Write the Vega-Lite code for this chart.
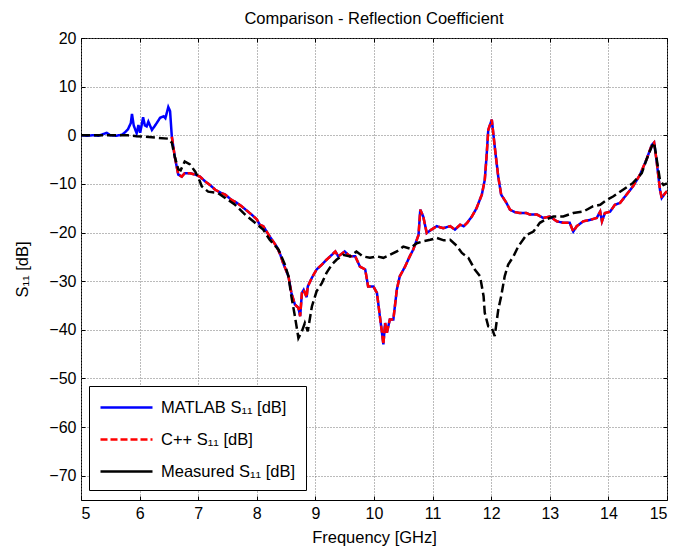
{
  "$schema": "https://vega.github.io/schema/vega-lite/v6.json",
  "width": 586,
  "height": 462,
  "autosize": "none",
  "padding": {"left": 81, "top": 38, "right": 8, "bottom": 48},
  "background": "white",
  "title": {"text": "Comparison - Reflection Coefficient", "font": "Liberation Sans", "fontSize": 16.5, "fontWeight": "normal", "color": "black", "offset": 3, "anchor": "middle"},
  "config": {
    "view": {"stroke": "black", "strokeWidth": 1},
    "axis": {"labelFont": "Liberation Sans", "labelFontSize": 16, "labelColor": "black", "titleFont": "Liberation Sans", "titleFontSize": 16.5, "titleFontWeight": "normal", "titleColor": "black", "domainColor": "black", "tickColor": "black", "gridColor": "#777777", "gridDash": [1, 2], "gridOpacity": 1, "gridWidth": 1, "tickSize": -4, "domain": false}
  },
  "datasets": {
    "s": [
      {"f": 5.00, "v": 0, "s": "MATLAB S₁₁ [dB]"},
      {"f": 5.10, "v": -0.1, "s": "MATLAB S₁₁ [dB]"},
      {"f": 5.20, "v": 0, "s": "MATLAB S₁₁ [dB]"},
      {"f": 5.30, "v": -0.1, "s": "MATLAB S₁₁ [dB]"},
      {"f": 5.44, "v": 0.5, "s": "MATLAB S₁₁ [dB]"},
      {"f": 5.50, "v": 0, "s": "MATLAB S₁₁ [dB]"},
      {"f": 5.60, "v": -0.1, "s": "MATLAB S₁₁ [dB]"},
      {"f": 5.70, "v": 0.1, "s": "MATLAB S₁₁ [dB]"},
      {"f": 5.75, "v": 0.6, "s": "MATLAB S₁₁ [dB]"},
      {"f": 5.80, "v": 1.2, "s": "MATLAB S₁₁ [dB]"},
      {"f": 5.85, "v": 2.5, "s": "MATLAB S₁₁ [dB]"},
      {"f": 5.87, "v": 4.4, "s": "MATLAB S₁₁ [dB]"},
      {"f": 5.90, "v": 2.0, "s": "MATLAB S₁₁ [dB]"},
      {"f": 5.95, "v": 0.4, "s": "MATLAB S₁₁ [dB]"},
      {"f": 5.98, "v": 2.1, "s": "MATLAB S₁₁ [dB]"},
      {"f": 6.01, "v": 0.5, "s": "MATLAB S₁₁ [dB]"},
      {"f": 6.06, "v": 3.7, "s": "MATLAB S₁₁ [dB]"},
      {"f": 6.09, "v": 2.0, "s": "MATLAB S₁₁ [dB]"},
      {"f": 6.12, "v": 1.8, "s": "MATLAB S₁₁ [dB]"},
      {"f": 6.15, "v": 2.8, "s": "MATLAB S₁₁ [dB]"},
      {"f": 6.21, "v": 1.1, "s": "MATLAB S₁₁ [dB]"},
      {"f": 6.27, "v": 2.1, "s": "MATLAB S₁₁ [dB]"},
      {"f": 6.35, "v": 3.6, "s": "MATLAB S₁₁ [dB]"},
      {"f": 6.41, "v": 3.9, "s": "MATLAB S₁₁ [dB]"},
      {"f": 6.44, "v": 3.5, "s": "MATLAB S₁₁ [dB]"},
      {"f": 6.49, "v": 5.8, "s": "MATLAB S₁₁ [dB]"},
      {"f": 6.52, "v": 5.0, "s": "MATLAB S₁₁ [dB]"},
      {"f": 6.55, "v": -0.3, "s": "MATLAB S₁₁ [dB]"},
      {"f": 6.60, "v": -4.4, "s": "MATLAB S₁₁ [dB]"},
      {"f": 6.66, "v": -8.1, "s": "MATLAB S₁₁ [dB]"},
      {"f": 6.72, "v": -8.5, "s": "MATLAB S₁₁ [dB]"},
      {"f": 6.77, "v": -7.8, "s": "MATLAB S₁₁ [dB]"},
      {"f": 6.86, "v": -7.8, "s": "MATLAB S₁₁ [dB]"},
      {"f": 6.95, "v": -8.1, "s": "MATLAB S₁₁ [dB]"},
      {"f": 7.03, "v": -8.5, "s": "MATLAB S₁₁ [dB]"},
      {"f": 7.12, "v": -9.5, "s": "MATLAB S₁₁ [dB]"},
      {"f": 7.20, "v": -10.2, "s": "MATLAB S₁₁ [dB]"},
      {"f": 7.29, "v": -11.2, "s": "MATLAB S₁₁ [dB]"},
      {"f": 7.38, "v": -11.8, "s": "MATLAB S₁₁ [dB]"},
      {"f": 7.46, "v": -12.2, "s": "MATLAB S₁₁ [dB]"},
      {"f": 7.57, "v": -13.3, "s": "MATLAB S₁₁ [dB]"},
      {"f": 7.66, "v": -13.9, "s": "MATLAB S₁₁ [dB]"},
      {"f": 7.74, "v": -14.6, "s": "MATLAB S₁₁ [dB]"},
      {"f": 7.83, "v": -15.5, "s": "MATLAB S₁₁ [dB]"},
      {"f": 7.91, "v": -16.3, "s": "MATLAB S₁₁ [dB]"},
      {"f": 8.00, "v": -17.3, "s": "MATLAB S₁₁ [dB]"},
      {"f": 8.05, "v": -18.4, "s": "MATLAB S₁₁ [dB]"},
      {"f": 8.11, "v": -18.7, "s": "MATLAB S₁₁ [dB]"},
      {"f": 8.22, "v": -20.8, "s": "MATLAB S₁₁ [dB]"},
      {"f": 8.34, "v": -22.9, "s": "MATLAB S₁₁ [dB]"},
      {"f": 8.40, "v": -24.5, "s": "MATLAB S₁₁ [dB]"},
      {"f": 8.45, "v": -26.3, "s": "MATLAB S₁₁ [dB]"},
      {"f": 8.54, "v": -29.0, "s": "MATLAB S₁₁ [dB]"},
      {"f": 8.59, "v": -32.4, "s": "MATLAB S₁₁ [dB]"},
      {"f": 8.65, "v": -34.8, "s": "MATLAB S₁₁ [dB]"},
      {"f": 8.71, "v": -35.5, "s": "MATLAB S₁₁ [dB]"},
      {"f": 8.74, "v": -37.2, "s": "MATLAB S₁₁ [dB]"},
      {"f": 8.77, "v": -32.4, "s": "MATLAB S₁₁ [dB]"},
      {"f": 8.80, "v": -31.8, "s": "MATLAB S₁₁ [dB]"},
      {"f": 8.85, "v": -33.3, "s": "MATLAB S₁₁ [dB]"},
      {"f": 8.87, "v": -31.1, "s": "MATLAB S₁₁ [dB]"},
      {"f": 8.94, "v": -29.3, "s": "MATLAB S₁₁ [dB]"},
      {"f": 9.02, "v": -27.6, "s": "MATLAB S₁₁ [dB]"},
      {"f": 9.11, "v": -26.6, "s": "MATLAB S₁₁ [dB]"},
      {"f": 9.19, "v": -25.6, "s": "MATLAB S₁₁ [dB]"},
      {"f": 9.28, "v": -24.6, "s": "MATLAB S₁₁ [dB]"},
      {"f": 9.34, "v": -23.9, "s": "MATLAB S₁₁ [dB]"},
      {"f": 9.39, "v": -24.9, "s": "MATLAB S₁₁ [dB]"},
      {"f": 9.50, "v": -23.9, "s": "MATLAB S₁₁ [dB]"},
      {"f": 9.59, "v": -24.9, "s": "MATLAB S₁₁ [dB]"},
      {"f": 9.68, "v": -24.9, "s": "MATLAB S₁₁ [dB]"},
      {"f": 9.76, "v": -27.0, "s": "MATLAB S₁₁ [dB]"},
      {"f": 9.85, "v": -27.6, "s": "MATLAB S₁₁ [dB]"},
      {"f": 9.90, "v": -31.1, "s": "MATLAB S₁₁ [dB]"},
      {"f": 9.99, "v": -31.1, "s": "MATLAB S₁₁ [dB]"},
      {"f": 10.05, "v": -32.4, "s": "MATLAB S₁₁ [dB]"},
      {"f": 10.10, "v": -37.2, "s": "MATLAB S₁₁ [dB]"},
      {"f": 10.13, "v": -40.0, "s": "MATLAB S₁₁ [dB]"},
      {"f": 10.16, "v": -43.0, "s": "MATLAB S₁₁ [dB]"},
      {"f": 10.19, "v": -38.6, "s": "MATLAB S₁₁ [dB]"},
      {"f": 10.22, "v": -40.6, "s": "MATLAB S₁₁ [dB]"},
      {"f": 10.27, "v": -37.9, "s": "MATLAB S₁₁ [dB]"},
      {"f": 10.33, "v": -37.9, "s": "MATLAB S₁₁ [dB]"},
      {"f": 10.39, "v": -31.7, "s": "MATLAB S₁₁ [dB]"},
      {"f": 10.44, "v": -29.0, "s": "MATLAB S₁₁ [dB]"},
      {"f": 10.53, "v": -27.0, "s": "MATLAB S₁₁ [dB]"},
      {"f": 10.61, "v": -24.9, "s": "MATLAB S₁₁ [dB]"},
      {"f": 10.67, "v": -23.5, "s": "MATLAB S₁₁ [dB]"},
      {"f": 10.73, "v": -21.5, "s": "MATLAB S₁₁ [dB]"},
      {"f": 10.76, "v": -20.5, "s": "MATLAB S₁₁ [dB]"},
      {"f": 10.79, "v": -15.3, "s": "MATLAB S₁₁ [dB]"},
      {"f": 10.84, "v": -16.7, "s": "MATLAB S₁₁ [dB]"},
      {"f": 10.90, "v": -20.1, "s": "MATLAB S₁₁ [dB]"},
      {"f": 10.98, "v": -19.4, "s": "MATLAB S₁₁ [dB]"},
      {"f": 11.07, "v": -18.7, "s": "MATLAB S₁₁ [dB]"},
      {"f": 11.18, "v": -19.1, "s": "MATLAB S₁₁ [dB]"},
      {"f": 11.30, "v": -18.7, "s": "MATLAB S₁₁ [dB]"},
      {"f": 11.38, "v": -19.4, "s": "MATLAB S₁₁ [dB]"},
      {"f": 11.47, "v": -18.4, "s": "MATLAB S₁₁ [dB]"},
      {"f": 11.53, "v": -18.7, "s": "MATLAB S₁₁ [dB]"},
      {"f": 11.59, "v": -18.0, "s": "MATLAB S₁₁ [dB]"},
      {"f": 11.67, "v": -16.7, "s": "MATLAB S₁₁ [dB]"},
      {"f": 11.75, "v": -15.0, "s": "MATLAB S₁₁ [dB]"},
      {"f": 11.84, "v": -12.2, "s": "MATLAB S₁₁ [dB]"},
      {"f": 11.89, "v": -9.2, "s": "MATLAB S₁₁ [dB]"},
      {"f": 11.92, "v": -4.5, "s": "MATLAB S₁₁ [dB]"},
      {"f": 11.95, "v": 1.1, "s": "MATLAB S₁₁ [dB]"},
      {"f": 12.01, "v": 3.2, "s": "MATLAB S₁₁ [dB]"},
      {"f": 12.06, "v": -2.3, "s": "MATLAB S₁₁ [dB]"},
      {"f": 12.12, "v": -8.5, "s": "MATLAB S₁₁ [dB]"},
      {"f": 12.17, "v": -12.2, "s": "MATLAB S₁₁ [dB]"},
      {"f": 12.26, "v": -13.9, "s": "MATLAB S₁₁ [dB]"},
      {"f": 12.32, "v": -15.3, "s": "MATLAB S₁₁ [dB]"},
      {"f": 12.40, "v": -15.8, "s": "MATLAB S₁₁ [dB]"},
      {"f": 12.49, "v": -16.0, "s": "MATLAB S₁₁ [dB]"},
      {"f": 12.60, "v": -16.0, "s": "MATLAB S₁₁ [dB]"},
      {"f": 12.66, "v": -16.3, "s": "MATLAB S₁₁ [dB]"},
      {"f": 12.78, "v": -16.3, "s": "MATLAB S₁₁ [dB]"},
      {"f": 12.89, "v": -17.0, "s": "MATLAB S₁₁ [dB]"},
      {"f": 13.00, "v": -16.7, "s": "MATLAB S₁₁ [dB]"},
      {"f": 13.12, "v": -17.7, "s": "MATLAB S₁₁ [dB]"},
      {"f": 13.23, "v": -18.0, "s": "MATLAB S₁₁ [dB]"},
      {"f": 13.34, "v": -18.0, "s": "MATLAB S₁₁ [dB]"},
      {"f": 13.40, "v": -19.8, "s": "MATLAB S₁₁ [dB]"},
      {"f": 13.46, "v": -18.7, "s": "MATLAB S₁₁ [dB]"},
      {"f": 13.57, "v": -17.7, "s": "MATLAB S₁₁ [dB]"},
      {"f": 13.69, "v": -17.4, "s": "MATLAB S₁₁ [dB]"},
      {"f": 13.80, "v": -17.0, "s": "MATLAB S₁₁ [dB]"},
      {"f": 13.86, "v": -15.7, "s": "MATLAB S₁₁ [dB]"},
      {"f": 13.89, "v": -17.7, "s": "MATLAB S₁₁ [dB]"},
      {"f": 13.94, "v": -16.0, "s": "MATLAB S₁₁ [dB]"},
      {"f": 14.03, "v": -15.7, "s": "MATLAB S₁₁ [dB]"},
      {"f": 14.11, "v": -14.3, "s": "MATLAB S₁₁ [dB]"},
      {"f": 14.20, "v": -13.9, "s": "MATLAB S₁₁ [dB]"},
      {"f": 14.31, "v": -12.2, "s": "MATLAB S₁₁ [dB]"},
      {"f": 14.42, "v": -10.5, "s": "MATLAB S₁₁ [dB]"},
      {"f": 14.54, "v": -8.1, "s": "MATLAB S₁₁ [dB]"},
      {"f": 14.65, "v": -5.0, "s": "MATLAB S₁₁ [dB]"},
      {"f": 14.74, "v": -2.0, "s": "MATLAB S₁₁ [dB]"},
      {"f": 14.78, "v": -1.5, "s": "MATLAB S₁₁ [dB]"},
      {"f": 14.82, "v": -5.0, "s": "MATLAB S₁₁ [dB]"},
      {"f": 14.88, "v": -11.2, "s": "MATLAB S₁₁ [dB]"},
      {"f": 14.91, "v": -12.9, "s": "MATLAB S₁₁ [dB]"},
      {"f": 14.97, "v": -11.9, "s": "MATLAB S₁₁ [dB]"},
      {"f": 15.00, "v": -11.5, "s": "MATLAB S₁₁ [dB]"},

      {"f": 6.55, "v": -0.3, "s": "C++ S₁₁ [dB]"},
      {"f": 6.60, "v": -4.4, "s": "C++ S₁₁ [dB]"},
      {"f": 6.66, "v": -8.1, "s": "C++ S₁₁ [dB]"},
      {"f": 6.72, "v": -8.5, "s": "C++ S₁₁ [dB]"},
      {"f": 6.77, "v": -7.8, "s": "C++ S₁₁ [dB]"},
      {"f": 6.86, "v": -7.8, "s": "C++ S₁₁ [dB]"},
      {"f": 6.95, "v": -8.1, "s": "C++ S₁₁ [dB]"},
      {"f": 7.03, "v": -8.5, "s": "C++ S₁₁ [dB]"},
      {"f": 7.12, "v": -9.5, "s": "C++ S₁₁ [dB]"},
      {"f": 7.20, "v": -10.2, "s": "C++ S₁₁ [dB]"},
      {"f": 7.29, "v": -11.2, "s": "C++ S₁₁ [dB]"},
      {"f": 7.38, "v": -11.8, "s": "C++ S₁₁ [dB]"},
      {"f": 7.46, "v": -12.2, "s": "C++ S₁₁ [dB]"},
      {"f": 7.57, "v": -13.3, "s": "C++ S₁₁ [dB]"},
      {"f": 7.66, "v": -13.9, "s": "C++ S₁₁ [dB]"},
      {"f": 7.74, "v": -14.6, "s": "C++ S₁₁ [dB]"},
      {"f": 7.83, "v": -15.5, "s": "C++ S₁₁ [dB]"},
      {"f": 7.91, "v": -16.3, "s": "C++ S₁₁ [dB]"},
      {"f": 8.00, "v": -17.3, "s": "C++ S₁₁ [dB]"},
      {"f": 8.05, "v": -18.4, "s": "C++ S₁₁ [dB]"},
      {"f": 8.11, "v": -18.7, "s": "C++ S₁₁ [dB]"},
      {"f": 8.22, "v": -20.8, "s": "C++ S₁₁ [dB]"},
      {"f": 8.34, "v": -22.9, "s": "C++ S₁₁ [dB]"},
      {"f": 8.40, "v": -24.5, "s": "C++ S₁₁ [dB]"},
      {"f": 8.45, "v": -26.3, "s": "C++ S₁₁ [dB]"},
      {"f": 8.54, "v": -29.0, "s": "C++ S₁₁ [dB]"},
      {"f": 8.59, "v": -32.4, "s": "C++ S₁₁ [dB]"},
      {"f": 8.65, "v": -34.8, "s": "C++ S₁₁ [dB]"},
      {"f": 8.71, "v": -35.5, "s": "C++ S₁₁ [dB]"},
      {"f": 8.74, "v": -37.2, "s": "C++ S₁₁ [dB]"},
      {"f": 8.77, "v": -32.4, "s": "C++ S₁₁ [dB]"},
      {"f": 8.80, "v": -31.8, "s": "C++ S₁₁ [dB]"},
      {"f": 8.85, "v": -33.3, "s": "C++ S₁₁ [dB]"},
      {"f": 8.87, "v": -31.1, "s": "C++ S₁₁ [dB]"},
      {"f": 8.94, "v": -29.3, "s": "C++ S₁₁ [dB]"},
      {"f": 9.02, "v": -27.6, "s": "C++ S₁₁ [dB]"},
      {"f": 9.11, "v": -26.6, "s": "C++ S₁₁ [dB]"},
      {"f": 9.19, "v": -25.6, "s": "C++ S₁₁ [dB]"},
      {"f": 9.28, "v": -24.6, "s": "C++ S₁₁ [dB]"},
      {"f": 9.34, "v": -23.9, "s": "C++ S₁₁ [dB]"},
      {"f": 9.39, "v": -24.9, "s": "C++ S₁₁ [dB]"},
      {"f": 9.50, "v": -23.9, "s": "C++ S₁₁ [dB]"},
      {"f": 9.59, "v": -24.9, "s": "C++ S₁₁ [dB]"},
      {"f": 9.68, "v": -24.9, "s": "C++ S₁₁ [dB]"},
      {"f": 9.76, "v": -27.0, "s": "C++ S₁₁ [dB]"},
      {"f": 9.85, "v": -27.6, "s": "C++ S₁₁ [dB]"},
      {"f": 9.90, "v": -31.1, "s": "C++ S₁₁ [dB]"},
      {"f": 9.99, "v": -31.1, "s": "C++ S₁₁ [dB]"},
      {"f": 10.05, "v": -32.4, "s": "C++ S₁₁ [dB]"},
      {"f": 10.10, "v": -37.2, "s": "C++ S₁₁ [dB]"},
      {"f": 10.13, "v": -40.0, "s": "C++ S₁₁ [dB]"},
      {"f": 10.16, "v": -43.0, "s": "C++ S₁₁ [dB]"},
      {"f": 10.19, "v": -38.6, "s": "C++ S₁₁ [dB]"},
      {"f": 10.22, "v": -40.6, "s": "C++ S₁₁ [dB]"},
      {"f": 10.27, "v": -37.9, "s": "C++ S₁₁ [dB]"},
      {"f": 10.33, "v": -37.9, "s": "C++ S₁₁ [dB]"},
      {"f": 10.39, "v": -31.7, "s": "C++ S₁₁ [dB]"},
      {"f": 10.44, "v": -29.0, "s": "C++ S₁₁ [dB]"},
      {"f": 10.53, "v": -27.0, "s": "C++ S₁₁ [dB]"},
      {"f": 10.61, "v": -24.9, "s": "C++ S₁₁ [dB]"},
      {"f": 10.67, "v": -23.5, "s": "C++ S₁₁ [dB]"},
      {"f": 10.73, "v": -21.5, "s": "C++ S₁₁ [dB]"},
      {"f": 10.76, "v": -20.5, "s": "C++ S₁₁ [dB]"},
      {"f": 10.79, "v": -15.3, "s": "C++ S₁₁ [dB]"},
      {"f": 10.84, "v": -16.7, "s": "C++ S₁₁ [dB]"},
      {"f": 10.90, "v": -20.1, "s": "C++ S₁₁ [dB]"},
      {"f": 10.98, "v": -19.4, "s": "C++ S₁₁ [dB]"},
      {"f": 11.07, "v": -18.7, "s": "C++ S₁₁ [dB]"},
      {"f": 11.18, "v": -19.1, "s": "C++ S₁₁ [dB]"},
      {"f": 11.30, "v": -18.7, "s": "C++ S₁₁ [dB]"},
      {"f": 11.38, "v": -19.4, "s": "C++ S₁₁ [dB]"},
      {"f": 11.47, "v": -18.4, "s": "C++ S₁₁ [dB]"},
      {"f": 11.53, "v": -18.7, "s": "C++ S₁₁ [dB]"},
      {"f": 11.59, "v": -18.0, "s": "C++ S₁₁ [dB]"},
      {"f": 11.67, "v": -16.7, "s": "C++ S₁₁ [dB]"},
      {"f": 11.75, "v": -15.0, "s": "C++ S₁₁ [dB]"},
      {"f": 11.84, "v": -12.2, "s": "C++ S₁₁ [dB]"},
      {"f": 11.89, "v": -9.2, "s": "C++ S₁₁ [dB]"},
      {"f": 11.92, "v": -4.5, "s": "C++ S₁₁ [dB]"},
      {"f": 11.95, "v": 1.1, "s": "C++ S₁₁ [dB]"},
      {"f": 12.01, "v": 3.2, "s": "C++ S₁₁ [dB]"},
      {"f": 12.06, "v": -2.3, "s": "C++ S₁₁ [dB]"},
      {"f": 12.12, "v": -8.5, "s": "C++ S₁₁ [dB]"},
      {"f": 12.17, "v": -12.2, "s": "C++ S₁₁ [dB]"},
      {"f": 12.26, "v": -13.9, "s": "C++ S₁₁ [dB]"},
      {"f": 12.32, "v": -15.3, "s": "C++ S₁₁ [dB]"},
      {"f": 12.40, "v": -15.8, "s": "C++ S₁₁ [dB]"},
      {"f": 12.49, "v": -16.0, "s": "C++ S₁₁ [dB]"},
      {"f": 12.60, "v": -16.0, "s": "C++ S₁₁ [dB]"},
      {"f": 12.66, "v": -16.3, "s": "C++ S₁₁ [dB]"},
      {"f": 12.78, "v": -16.3, "s": "C++ S₁₁ [dB]"},
      {"f": 12.89, "v": -17.0, "s": "C++ S₁₁ [dB]"},
      {"f": 13.00, "v": -16.7, "s": "C++ S₁₁ [dB]"},
      {"f": 13.12, "v": -17.7, "s": "C++ S₁₁ [dB]"},
      {"f": 13.23, "v": -18.0, "s": "C++ S₁₁ [dB]"},
      {"f": 13.34, "v": -18.0, "s": "C++ S₁₁ [dB]"},
      {"f": 13.40, "v": -19.8, "s": "C++ S₁₁ [dB]"},
      {"f": 13.46, "v": -18.7, "s": "C++ S₁₁ [dB]"},
      {"f": 13.57, "v": -17.7, "s": "C++ S₁₁ [dB]"},
      {"f": 13.69, "v": -17.4, "s": "C++ S₁₁ [dB]"},
      {"f": 13.80, "v": -17.0, "s": "C++ S₁₁ [dB]"},
      {"f": 13.86, "v": -15.7, "s": "C++ S₁₁ [dB]"},
      {"f": 13.89, "v": -17.7, "s": "C++ S₁₁ [dB]"},
      {"f": 13.94, "v": -16.0, "s": "C++ S₁₁ [dB]"},
      {"f": 14.03, "v": -15.7, "s": "C++ S₁₁ [dB]"},
      {"f": 14.11, "v": -14.3, "s": "C++ S₁₁ [dB]"},
      {"f": 14.20, "v": -13.9, "s": "C++ S₁₁ [dB]"},
      {"f": 14.31, "v": -12.2, "s": "C++ S₁₁ [dB]"},
      {"f": 14.42, "v": -10.5, "s": "C++ S₁₁ [dB]"},
      {"f": 14.54, "v": -8.1, "s": "C++ S₁₁ [dB]"},
      {"f": 14.65, "v": -5.0, "s": "C++ S₁₁ [dB]"},
      {"f": 14.74, "v": -2.0, "s": "C++ S₁₁ [dB]"},
      {"f": 14.78, "v": -1.5, "s": "C++ S₁₁ [dB]"},
      {"f": 14.82, "v": -5.0, "s": "C++ S₁₁ [dB]"},
      {"f": 14.88, "v": -11.2, "s": "C++ S₁₁ [dB]"},
      {"f": 14.91, "v": -12.9, "s": "C++ S₁₁ [dB]"},
      {"f": 14.97, "v": -11.9, "s": "C++ S₁₁ [dB]"},
      {"f": 15.00, "v": -11.5, "s": "C++ S₁₁ [dB]"},

      {"f": 5.00, "v": 0, "s": "Measured S₁₁ [dB]"},
      {"f": 5.20, "v": 0, "s": "Measured S₁₁ [dB]"},
      {"f": 5.40, "v": 0, "s": "Measured S₁₁ [dB]"},
      {"f": 5.60, "v": 0, "s": "Measured S₁₁ [dB]"},
      {"f": 5.80, "v": 0, "s": "Measured S₁₁ [dB]"},
      {"f": 5.95, "v": -0.2, "s": "Measured S₁₁ [dB]"},
      {"f": 6.10, "v": -0.3, "s": "Measured S₁₁ [dB]"},
      {"f": 6.29, "v": -0.5, "s": "Measured S₁₁ [dB]"},
      {"f": 6.49, "v": -0.7, "s": "Measured S₁₁ [dB]"},
      {"f": 6.55, "v": -1.5, "s": "Measured S₁₁ [dB]"},
      {"f": 6.60, "v": -4.4, "s": "Measured S₁₁ [dB]"},
      {"f": 6.66, "v": -7.0, "s": "Measured S₁₁ [dB]"},
      {"f": 6.70, "v": -7.2, "s": "Measured S₁₁ [dB]"},
      {"f": 6.77, "v": -5.4, "s": "Measured S₁₁ [dB]"},
      {"f": 6.86, "v": -6.0, "s": "Measured S₁₁ [dB]"},
      {"f": 6.95, "v": -7.5, "s": "Measured S₁₁ [dB]"},
      {"f": 7.03, "v": -9.5, "s": "Measured S₁₁ [dB]"},
      {"f": 7.06, "v": -10.5, "s": "Measured S₁₁ [dB]"},
      {"f": 7.17, "v": -11.6, "s": "Measured S₁₁ [dB]"},
      {"f": 7.34, "v": -11.9, "s": "Measured S₁₁ [dB]"},
      {"f": 7.46, "v": -12.9, "s": "Measured S₁₁ [dB]"},
      {"f": 7.63, "v": -14.3, "s": "Measured S₁₁ [dB]"},
      {"f": 7.80, "v": -16.3, "s": "Measured S₁₁ [dB]"},
      {"f": 7.97, "v": -18.0, "s": "Measured S₁₁ [dB]"},
      {"f": 8.11, "v": -19.4, "s": "Measured S₁₁ [dB]"},
      {"f": 8.22, "v": -21.5, "s": "Measured S₁₁ [dB]"},
      {"f": 8.37, "v": -23.5, "s": "Measured S₁₁ [dB]"},
      {"f": 8.48, "v": -26.6, "s": "Measured S₁₁ [dB]"},
      {"f": 8.54, "v": -29.0, "s": "Measured S₁₁ [dB]"},
      {"f": 8.59, "v": -33.1, "s": "Measured S₁₁ [dB]"},
      {"f": 8.65, "v": -37.2, "s": "Measured S₁₁ [dB]"},
      {"f": 8.71, "v": -41.7, "s": "Measured S₁₁ [dB]"},
      {"f": 8.77, "v": -40.3, "s": "Measured S₁₁ [dB]"},
      {"f": 8.82, "v": -38.6, "s": "Measured S₁₁ [dB]"},
      {"f": 8.87, "v": -40.3, "s": "Measured S₁₁ [dB]"},
      {"f": 8.94, "v": -35.2, "s": "Measured S₁₁ [dB]"},
      {"f": 9.02, "v": -32.1, "s": "Measured S₁₁ [dB]"},
      {"f": 9.11, "v": -30.4, "s": "Measured S₁₁ [dB]"},
      {"f": 9.19, "v": -28.3, "s": "Measured S₁₁ [dB]"},
      {"f": 9.28, "v": -26.6, "s": "Measured S₁₁ [dB]"},
      {"f": 9.36, "v": -25.6, "s": "Measured S₁₁ [dB]"},
      {"f": 9.47, "v": -24.6, "s": "Measured S₁₁ [dB]"},
      {"f": 9.59, "v": -24.9, "s": "Measured S₁₁ [dB]"},
      {"f": 9.70, "v": -23.9, "s": "Measured S₁₁ [dB]"},
      {"f": 9.81, "v": -24.9, "s": "Measured S₁₁ [dB]"},
      {"f": 9.93, "v": -25.2, "s": "Measured S₁₁ [dB]"},
      {"f": 10.05, "v": -24.9, "s": "Measured S₁₁ [dB]"},
      {"f": 10.16, "v": -25.2, "s": "Measured S₁₁ [dB]"},
      {"f": 10.27, "v": -24.6, "s": "Measured S₁₁ [dB]"},
      {"f": 10.39, "v": -23.9, "s": "Measured S₁₁ [dB]"},
      {"f": 10.50, "v": -22.9, "s": "Measured S₁₁ [dB]"},
      {"f": 10.61, "v": -23.3, "s": "Measured S₁₁ [dB]"},
      {"f": 10.73, "v": -22.2, "s": "Measured S₁₁ [dB]"},
      {"f": 10.84, "v": -21.8, "s": "Measured S₁₁ [dB]"},
      {"f": 10.96, "v": -21.5, "s": "Measured S₁₁ [dB]"},
      {"f": 11.07, "v": -21.1, "s": "Measured S₁₁ [dB]"},
      {"f": 11.19, "v": -21.6, "s": "Measured S₁₁ [dB]"},
      {"f": 11.30, "v": -21.5, "s": "Measured S₁₁ [dB]"},
      {"f": 11.41, "v": -22.7, "s": "Measured S₁₁ [dB]"},
      {"f": 11.50, "v": -24.2, "s": "Measured S₁₁ [dB]"},
      {"f": 11.61, "v": -25.2, "s": "Measured S₁₁ [dB]"},
      {"f": 11.72, "v": -27.6, "s": "Measured S₁₁ [dB]"},
      {"f": 11.81, "v": -29.0, "s": "Measured S₁₁ [dB]"},
      {"f": 11.87, "v": -33.1, "s": "Measured S₁₁ [dB]"},
      {"f": 11.89, "v": -36.5, "s": "Measured S₁₁ [dB]"},
      {"f": 11.95, "v": -39.3, "s": "Measured S₁₁ [dB]"},
      {"f": 12.01, "v": -39.6, "s": "Measured S₁₁ [dB]"},
      {"f": 12.06, "v": -41.3, "s": "Measured S₁₁ [dB]"},
      {"f": 12.12, "v": -35.9, "s": "Measured S₁₁ [dB]"},
      {"f": 12.17, "v": -33.1, "s": "Measured S₁₁ [dB]"},
      {"f": 12.23, "v": -29.0, "s": "Measured S₁₁ [dB]"},
      {"f": 12.29, "v": -26.6, "s": "Measured S₁₁ [dB]"},
      {"f": 12.38, "v": -24.9, "s": "Measured S₁₁ [dB]"},
      {"f": 12.46, "v": -22.9, "s": "Measured S₁₁ [dB]"},
      {"f": 12.60, "v": -20.5, "s": "Measured S₁₁ [dB]"},
      {"f": 12.72, "v": -19.8, "s": "Measured S₁₁ [dB]"},
      {"f": 12.83, "v": -18.0, "s": "Measured S₁₁ [dB]"},
      {"f": 12.92, "v": -17.4, "s": "Measured S₁₁ [dB]"},
      {"f": 13.06, "v": -16.7, "s": "Measured S₁₁ [dB]"},
      {"f": 13.23, "v": -16.7, "s": "Measured S₁₁ [dB]"},
      {"f": 13.40, "v": -16.0, "s": "Measured S₁₁ [dB]"},
      {"f": 13.57, "v": -15.7, "s": "Measured S₁₁ [dB]"},
      {"f": 13.74, "v": -14.6, "s": "Measured S₁₁ [dB]"},
      {"f": 13.86, "v": -14.3, "s": "Measured S₁₁ [dB]"},
      {"f": 13.97, "v": -13.3, "s": "Measured S₁₁ [dB]"},
      {"f": 14.08, "v": -12.6, "s": "Measured S₁₁ [dB]"},
      {"f": 14.25, "v": -11.2, "s": "Measured S₁₁ [dB]"},
      {"f": 14.42, "v": -9.8, "s": "Measured S₁₁ [dB]"},
      {"f": 14.57, "v": -7.8, "s": "Measured S₁₁ [dB]"},
      {"f": 14.65, "v": -5.0, "s": "Measured S₁₁ [dB]"},
      {"f": 14.74, "v": -2.3, "s": "Measured S₁₁ [dB]"},
      {"f": 14.78, "v": -1.5, "s": "Measured S₁₁ [dB]"},
      {"f": 14.82, "v": -4.6, "s": "Measured S₁₁ [dB]"},
      {"f": 14.88, "v": -9.2, "s": "Measured S₁₁ [dB]"},
      {"f": 14.94, "v": -10.2, "s": "Measured S₁₁ [dB]"},
      {"f": 15.00, "v": -9.9, "s": "Measured S₁₁ [dB]"}
    ]
  },
  "data": {"name": "s"},
  "encoding": {
    "color": {"field": "s", "type": "nominal",
      "scale": {"domain": ["MATLAB S₁₁ [dB]", "C++ S₁₁ [dB]", "Measured S₁₁ [dB]"], "range": ["#0000ff", "#ff0000", "#000000"]},
      "legend": {"title": null, "orient": "none", "legendX": 8, "legendY": 348, "strokeColor": "black", "fillColor": "white", "padding": 10, "symbolType": "M-2.6,0H2.6", "symbolSize": 400, "symbolOffset": 16, "symbolStrokeWidth": 2.5, "rowPadding": 12, "labelFont": "Liberation Sans", "labelFontSize": 16.5, "labelColor": "black", "labelLimit": 300, "labelOffset": 23}}
  },
  "resolve": {"axis": {"x": "independent", "y": "independent"}},
  "layer": [
    {"transform": [{"filter": "datum.s === 'MATLAB S₁₁ [dB]'"}], "mark": {"type": "line", "strokeWidth": 2.5, "clip": true},
      "encoding": {
        "x": {"field": "f", "type": "quantitative", "scale": {"domain": [5, 15], "nice": false, "zero": false},
          "axis": {"orient": "bottom", "title": "Frequency [GHz]", "values": [5,6,7,8,9,10,11,12,13,14,15], "labelPadding": 9, "titlePadding": 8}},
        "y": {"field": "v", "type": "quantitative", "scale": {"domain": [-75, 20], "nice": false, "zero": false},
          "axis": {"orient": "left", "title": "S₁₁ [dB]", "values": [-70,-60,-50,-40,-30,-20,-10,0,10,20], "labelPadding": 9, "titlePadding": 18}},
        "strokeDash": {"field": "s", "type": "nominal",
          "scale": {"domain": ["MATLAB S₁₁ [dB]", "C++ S₁₁ [dB]", "Measured S₁₁ [dB]"], "range": [[1,0],[7,3],[1,0]]}}}},
    {"transform": [{"filter": "datum.s === 'C++ S₁₁ [dB]'"}], "mark": {"type": "line", "strokeWidth": 2.5, "clip": true},
      "encoding": {
        "x": {"field": "f", "type": "quantitative", "axis": null},
        "y": {"field": "v", "type": "quantitative", "axis": null},
        "strokeDash": {"field": "s", "type": "nominal"}}},
    {"transform": [{"filter": "datum.s === 'Measured S₁₁ [dB]'"}], "mark": {"type": "line", "strokeWidth": 2.5, "clip": true, "strokeDash": [9, 4]},
      "encoding": {
        "x": {"field": "f", "type": "quantitative",
          "axis": {"orient": "top", "title": null, "labels": false, "grid": false, "values": [5,6,7,8,9,10,11,12,13,14,15]}},
        "y": {"field": "v", "type": "quantitative",
          "axis": {"orient": "right", "title": null, "labels": false, "grid": false, "values": [-70,-60,-50,-40,-30,-20,-10,0,10,20]}}}}
  ]
}
